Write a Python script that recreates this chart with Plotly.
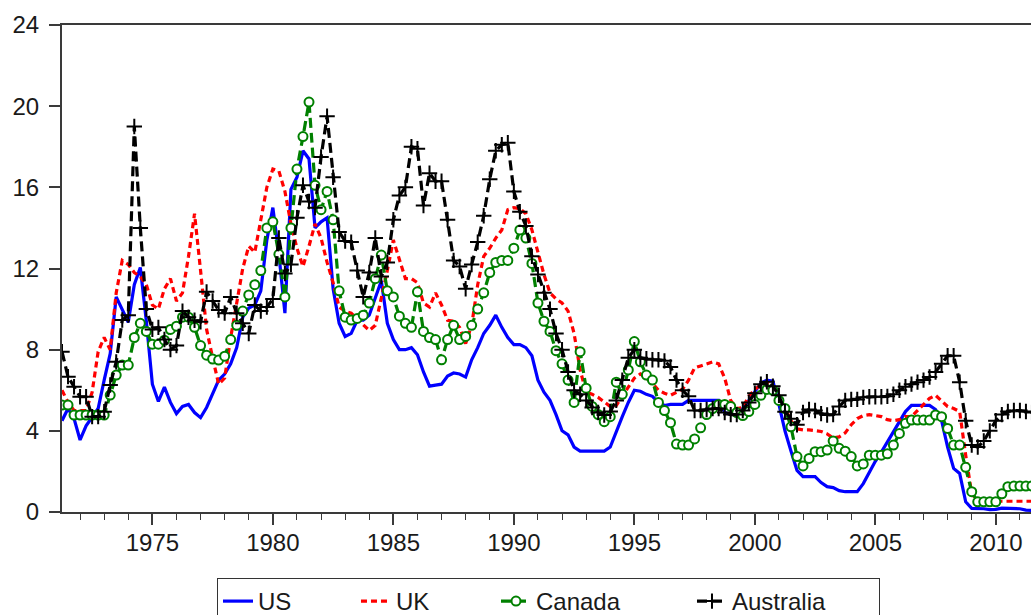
import pandas as pd
import plotly.graph_objects as go

# Quarterly short-term interest rates (%), 1971Q2 - 2011Q3
first_quarter = "1971Q2"

us = [
    4.5, 5.1, 4.6,                 # 1971
    3.55, 4.25, 4.7, 5.1,          # 1972
    6.5, 7.8, 10.6, 10.0,          # 1973
    9.35, 11.2, 12.05, 9.4,        # 1974
    6.3, 5.45, 6.15, 5.4,          # 1975
    4.85, 5.2, 5.3, 4.9,           # 1976
    4.65, 5.15, 5.8, 6.5,          # 1977
    6.8, 7.3, 8.1, 9.6,            # 1978
    10.05, 10.2, 10.9, 13.4,       # 1979
    15.0, 12.7, 9.8, 15.9,         # 1980
    16.5, 17.8, 17.4, 14.0,        # 1981
    14.3, 14.5, 11.0, 9.3,         # 1982
    8.65, 8.8, 9.45, 9.45,         # 1983
    9.7, 10.55, 11.4, 9.3,         # 1984
    8.5, 8.0, 8.0, 8.1,            # 1985
    7.75, 6.9, 6.2, 6.25,          # 1986
    6.3, 6.7, 6.85, 6.8,           # 1987
    6.65, 7.5, 8.1, 8.8,           # 1988
    9.2, 9.7, 9.1, 8.6,            # 1989
    8.25, 8.25, 8.1, 7.7,          # 1990
    6.5, 5.9, 5.5, 4.8,            # 1991
    4.0, 3.8, 3.2, 3.0,            # 1992
    3.0, 3.0, 3.0, 3.0,            # 1993
    3.2, 4.0, 4.7, 5.4,            # 1994
    6.0, 5.95, 5.8, 5.7,           # 1995
    5.4, 5.25, 5.3, 5.3,           # 1996
    5.3, 5.5, 5.5, 5.5,            # 1997
    5.5, 5.5, 5.5, 4.9,            # 1998
    4.8, 4.9, 5.1, 5.5,            # 1999
    5.9, 6.35, 6.5, 6.45,          # 2000
    5.3, 4.0, 3.0, 2.05,           # 2001
    1.74, 1.74, 1.74, 1.45,        # 2002
    1.25, 1.2, 1.05, 1.0,          # 2003
    1.0, 1.0, 1.4, 1.95,           # 2004
    2.5, 2.95, 3.45, 3.95,         # 2005
    4.5, 4.95, 5.25, 5.25,         # 2006
    5.25, 5.25, 5.05, 4.5,         # 2007
    3.2, 2.15, 1.9, 0.5,           # 2008
    0.18, 0.18, 0.16, 0.12,        # 2009
    0.13, 0.19, 0.19, 0.19,        # 2010
    0.16, 0.09, 0.08,              # 2011
]

uk = [
    6.0, 5.4, 5.0,                 # 1971
    5.0, 5.0, 5.9, 7.9,            # 1972
    8.6, 8.0, 10.8, 12.4,          # 1973
    12.2, 11.8, 11.6, 11.2,        # 1974
    10.2, 10.0, 11.0, 11.5,        # 1975
    10.4, 10.8, 12.6, 14.7,        # 1976
    11.9, 9.0, 7.6, 6.3,           # 1977
    6.6, 8.6, 10.3, 12.0,          # 1978
    13.1, 12.8, 14.4, 16.0,        # 1979
    16.9, 16.8, 15.8, 14.2,        # 1980
    13.0, 12.1, 13.1, 14.2,        # 1981
    13.5, 12.3, 11.3, 10.1,        # 1982
    9.9, 9.8, 9.5, 9.2,            # 1983
    8.95, 9.2, 10.5, 11.9,         # 1984
    13.4, 12.4, 11.5, 11.5,        # 1985
    11.3, 10.3, 10.1, 10.8,        # 1986
    10.2, 9.45, 9.4, 9.1,          # 1987
    8.3, 9.2, 11.2, 12.6,          # 1988
    13.0, 13.5, 13.9, 14.9,        # 1989
    15.0, 14.95, 14.7, 13.9,       # 1990
    12.8, 11.7, 10.8, 10.5,        # 1991
    10.3, 9.9, 8.8, 7.0,           # 1992
    5.9, 5.8, 5.65, 5.4,           # 1993
    5.2, 5.25, 5.7, 6.2,           # 1994
    6.6, 6.8, 6.6, 6.35,           # 1995
    6.0, 5.85, 5.75, 5.9,          # 1996
    6.05, 6.5, 7.1, 7.2,           # 1997
    7.3, 7.4, 7.3, 6.6,            # 1998
    5.5, 5.1, 5.15, 5.7,           # 1999
    6.05, 6.25, 6.4, 6.2,          # 2000
    5.75, 5.1, 4.5, 4.1,           # 2001
    4.05, 4.05, 4.0, 3.97,         # 2002
    3.85, 3.65, 3.7, 3.9,          # 2003
    4.3, 4.6, 4.75, 4.8,           # 2004
    4.75, 4.7, 4.55, 4.5,          # 2005
    4.55, 4.7, 4.7, 5.0,           # 2006
    5.35, 5.6, 5.75, 5.45,         # 2007
    5.2, 5.1, 4.95, 2.8,           # 2008
    0.9, 0.55, 0.53, 0.53,         # 2009
    0.53, 0.53, 0.53, 0.53,        # 2010
    0.53, 0.53, 0.53,              # 2011
]

canada = [
    5.27, 5.27, 4.78,              # 1971
    4.78, 4.78, 4.78, 4.78,        # 1972
    4.78, 5.76, 6.75, 7.24,        # 1973
    7.24, 8.6, 9.3, 8.9,           # 1974
    8.27, 8.27, 8.47, 9.0,         # 1975
    9.16, 9.6, 9.6, 9.1,           # 1976
    8.2, 7.73, 7.54, 7.49,         # 1977
    7.68, 8.5, 9.2, 9.9,           # 1978
    10.7, 11.2, 11.9, 14.0,        # 1979
    14.3, 12.7, 10.6, 14.0,        # 1980
    16.9, 18.5, 20.2, 16.1,        # 1981
    14.9, 15.8, 14.4, 10.9,        # 1982
    9.6, 9.46, 9.54, 9.7,          # 1983
    10.3, 11.5, 12.66, 10.9,       # 1984
    10.6, 9.65, 9.3, 9.1,          # 1985
    10.85, 8.9, 8.6, 8.5,          # 1986
    7.5, 8.5, 9.2, 8.5,            # 1987
    8.65, 9.2, 10.0, 10.8,         # 1988
    11.8, 12.3, 12.4, 12.4,        # 1989
    13.0, 13.9, 13.5, 12.25,       # 1990
    10.3, 9.4, 8.9, 7.95,          # 1991
    7.3, 6.5, 5.4, 7.9,            # 1992
    6.1, 5.2, 4.8, 4.45,           # 1993
    4.7, 6.4, 5.8, 7.0,            # 1994
    8.4, 7.4, 6.75, 6.5,           # 1995
    5.4, 5.0, 4.4, 3.35,           # 1996
    3.3, 3.3, 3.6, 4.15,           # 1997
    4.8, 5.1, 5.3, 5.3,            # 1998
    5.2, 4.9, 4.75, 4.95,          # 1999
    5.3, 5.75, 6.04, 6.0,          # 2000
    5.5, 5.1, 4.2, 2.73,           # 2001
    2.27, 2.64, 2.97, 2.97,        # 2002
    3.05, 3.5, 3.14, 3.0,          # 2003
    2.73, 2.27, 2.37, 2.8,         # 2004
    2.8, 2.8, 2.87, 3.3,           # 2005
    3.87, 4.37, 4.53, 4.53,        # 2006
    4.53, 4.53, 4.78, 4.7,         # 2007
    4.12, 3.3, 3.3, 2.2,           # 2008
    1.0, 0.5, 0.5, 0.5,            # 2009
    0.5, 0.9, 1.25, 1.28,          # 2010
    1.28, 1.28, 1.28,              # 2011
]

australia = [
    7.9, 6.67, 6.17,               # 1971
    5.68, 5.68, 4.7, 4.7,          # 1972
    4.94, 6.26, 7.4, 9.46,         # 1973
    9.7, 19.0, 14.0, 10.0,         # 1974
    9.0, 9.1, 8.5, 8.0,            # 1975
    8.2, 9.9, 9.6, 9.45,           # 1976
    9.37, 10.85, 10.4, 9.95,       # 1977
    9.8, 10.6, 9.8, 9.3,           # 1978
    8.8, 10.2, 9.9, 10.1,          # 1979
    10.5, 13.5, 11.75, 12.2,       # 1980
    14.5, 16.1, 15.3, 15.0,        # 1981
    17.5, 19.5, 16.5, 13.8,        # 1982
    13.35, 13.3, 11.9, 10.6,       # 1983
    11.8, 13.5, 11.6, 12.3,        # 1984
    14.4, 15.6, 16.0, 18.0,        # 1985
    17.9, 15.1, 16.7, 16.3,        # 1986
    16.3, 14.4, 12.4, 12.1,        # 1987
    11.0, 12.2, 13.3, 14.6,        # 1988
    16.4, 17.8, 18.1, 18.2,        # 1989
    15.8, 14.8, 14.1, 12.6,        # 1990
    11.7, 10.8, 10.0, 8.8,         # 1991
    8.0, 6.9, 6.0, 5.8,            # 1992
    5.5, 5.15, 4.9, 4.78,          # 1993
    4.95, 5.5, 6.5, 7.6,           # 1994
    8.0, 7.6, 7.55, 7.5,           # 1995
    7.5, 7.45, 7.15, 6.5,          # 1996
    6.0, 5.7, 5.0, 5.0,            # 1997
    5.05, 5.1, 5.1, 4.9,           # 1998
    4.8, 4.8, 5.0, 5.4,            # 1999
    5.85, 6.3, 6.42, 6.2,          # 2000
    5.75, 4.94, 4.6, 4.3,          # 2001
    4.9, 5.05, 5.0, 4.85,          # 2002
    4.78, 4.8, 5.2, 5.5,           # 2003
    5.55, 5.55, 5.65, 5.68,        # 2004
    5.68, 5.68, 5.7, 5.8,          # 2005
    6.0, 6.17, 6.3, 6.4,           # 2006
    6.5, 6.65, 6.9, 7.3,           # 2007
    7.7, 7.7, 6.4, 4.5,            # 2008
    3.3, 3.2, 3.5, 4.0,            # 2009
    4.5, 4.8, 4.95, 5.0,           # 2010
    5.0, 4.95, 4.9,                # 2011
]

x_ticks = [1975, 1980, 1985, 1990, 1995, 2000, 2005, 2010]
y_ticks = [0, 4, 8, 12, 16, 20, 24]

periods = pd.period_range(first_quarter, periods=len(us), freq="Q")
t = [p.year + (p.quarter - 1) / 4 for p in periods]

FONT = "Liberation Sans, Arial, sans-serif"
AXIS = "#3a3a3a"
TEXT = "#1a1a1a"

fig = go.Figure()
fig.add_trace(go.Scatter(
    x=t, y=us, name="US", mode="lines", legendwidth=93,
    line=dict(color="#0000ff", width=3.2),
))
fig.add_trace(go.Scatter(
    x=t, y=uk, name="UK", mode="lines", legendwidth=95,
    line=dict(color="#ff0000", width=3.2, dash="6px,4px"),
))
fig.add_trace(go.Scatter(
    x=t, y=canada, name="Canada", mode="lines+markers", legendwidth=151,
    line=dict(color="#008000", width=3.2, dash="10px,5px"),
    marker=dict(symbol="circle", size=9, color="white",
                line=dict(color="#008000", width=2)),
))
fig.add_trace(go.Scatter(
    x=t, y=australia, name="Australia", mode="lines+markers", legendwidth=142,
    line=dict(color="#000000", width=3.2, dash="10px,5px"),
    marker=dict(symbol="cross-thin", size=11,
                line=dict(color="#000000", width=2)),
))

fig.update_layout(
    width=1031, height=615,
    margin=dict(l=62, r=0, t=25, b=103, autoexpand=False),
    paper_bgcolor="white", plot_bgcolor="white",
    font=dict(family=FONT, size=24, color=TEXT),
    showlegend=True,
    legend=dict(
        orientation="h", xref="container", yref="container",
        x=0.532, xanchor="center", y=1 - 578 / 615, yanchor="top",
        bordercolor="#333333", borderwidth=1, bgcolor="white",
        font=dict(family=FONT, size=24, color=TEXT),
    ),
)
fig.update_xaxes(
    range=[1971.25, 2011.46], showgrid=False, zeroline=False,
    tickmode="array", tickvals=x_ticks, ticktext=[str(v) for v in x_ticks],
    ticks="outside", ticklen=11, tickwidth=1.5, tickcolor=AXIS,
    showline=True, linecolor=AXIS, linewidth=2, mirror=True,
    minor=dict(dtick=1, tick0=1971, ticks="outside", ticklen=6,
               tickwidth=1.2, tickcolor=AXIS, showgrid=False),
    ticklabelstandoff=-3,
)
fig.update_yaxes(
    range=[0, 24], showgrid=False, zeroline=False,
    tickmode="array", tickvals=y_ticks,
    ticks="outside", ticklen=11, tickwidth=1.5, tickcolor=AXIS,
    showline=True, linecolor=AXIS, linewidth=2,
    ticklabelstandoff=5,
)

fig.write_html("out.html")
